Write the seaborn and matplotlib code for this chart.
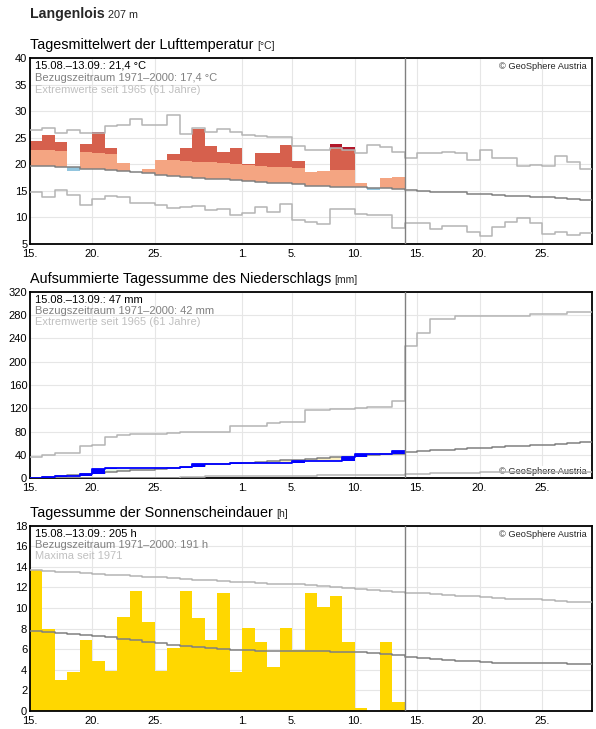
import numpy as np
import matplotlib
matplotlib.use('Agg')
import matplotlib.pyplot as plt
import seaborn as sns

# day index 0 = 15.08.; observations run 15.08.-13.09. (30 days), axis runs to 29.09.
N_DAYS = 45
days_obs = np.arange(30)

tick_pos = [0, 5, 10, 17, 21, 26, 31, 36, 41]
tick_labels = ['15.', '20.', '25.', '1.', '5.', '10.', '15.', '20.', '25.']

# --- air temperature (daily mean, °C) ---
temp_obs = [24.4, 25.6, 24.1, 18.8, 23.9, 26.1, 23.1, 20.3, 18.5, 19.1,
            20.8, 21.9, 23.1, 26.7, 23.5, 22.3, 23.1, 20.1, 22.2, 22.2,
            23.7, 20.6, 18.6, 18.8, 23.9, 23.3, 16.5, 15.2, 17.5, 17.6]
temp_mean = [19.6, 19.6, 19.4, 19.4, 19.2, 19.1, 18.9, 18.7, 18.5, 18.4,
             18.0, 17.8, 17.6, 17.4, 17.3, 17.2, 17.0, 16.9, 16.7, 16.5,
             16.4, 16.2, 16.0, 16.0, 15.8, 15.8, 15.7, 15.5, 15.5, 15.3,
             15.1, 15.0, 14.8, 14.7, 14.7, 14.5, 14.5, 14.3, 14.1, 14.1,
             13.9, 13.8, 13.6, 13.4, 13.2]
temp_max = [26.4, 26.8, 25.9, 26.4, 25.9, 25.9, 27.2, 27.4, 28.5, 27.4,
            27.4, 29.3, 25.7, 26.8, 26.1, 26.6, 26.1, 25.5, 25.4, 25.1,
            25.1, 23.4, 22.7, 22.7, 23.0, 22.7, 22.1, 23.6, 23.2, 22.3,
            21.1, 22.1, 22.1, 22.3, 22.1, 20.8, 22.7, 21.1, 21.1, 19.6,
            19.8, 19.6, 21.5, 20.4, 19.1]
temp_min = [14.8, 13.8, 15.1, 14.3, 12.4, 13.4, 14.1, 13.9, 12.7, 12.8,
            12.4, 11.7, 11.9, 12.1, 11.4, 11.6, 10.4, 10.9, 11.9, 11.1,
            12.6, 9.5, 9.2, 8.8, 11.6, 11.6, 10.7, 10.4, 10.4, 8.1,
            8.9, 8.9, 7.8, 8.4, 8.4, 7.2, 6.5, 8.2, 9.1, 9.8,
            8.9, 6.9, 7.2, 6.7, 7.0]
TEMP_STRONG = 3.05  # anomaly above which the bar turns dark

# --- precipitation (mm) ---
rain_daily = [0, 2.5, 1.0, 0.5, 4.0, 8.0, 1.2, 0, 0, 0,
              0, 0.6, 1.4, 5.2, 0, 0, 1.6, 0, 0, 0,
              0, 3.5, 0, 0, 0, 7.3, 4.2, 0, 0, 6.0]
rain_mean = [1.1, 2.8, 4.3, 6.0, 7.8, 9.5, 11.2, 12.3, 13.5, 14.6,
             15.8, 17.0, 18.8, 21.5, 23.8, 24.5, 25.5, 27.0, 28.8, 30.0,
             31.3, 32.0, 33.5, 34.5, 35.8, 37.0, 38.6, 40.0, 41.2, 42.3,
             44.9, 46.6, 47.8, 48.9, 50.1, 51.3, 52.4, 53.6, 54.7, 55.9,
             57.0, 57.6, 59.3, 61.1, 62.8]
rain_max = [36.3, 39.8, 43.2, 43.2, 55.9, 57.1, 70.9, 74.4, 75.5, 76.7,
            76.7, 77.8, 79.0, 80.1, 80.1, 80.1, 90.5, 90.5, 90.5, 95.1,
            96.3, 96.3, 117.6, 117.6, 118.7, 118.7, 120.5, 121.6, 121.6, 133.1,
            226.4, 249.5, 273.1, 273.1, 278.9, 278.9, 278.9, 278.9, 278.9, 278.9,
            281.8, 281.8, 281.8, 285.2, 285.2]
rain_min = [0, 0, 0, 0, 0, 0, 0, 0, 0, 0,
            0, 0, 1.7, 2.9, 4.2, 4.2, 4.2, 4.2, 4.2, 4.2,
            4.2, 4.2, 4.2, 6.2, 6.2, 6.2, 6.2, 6.2, 6.2, 6.2,
            6.9, 6.9, 8.6, 8.6, 8.6, 8.6, 10.3, 10.3, 10.3, 10.3,
            10.3, 10.3, 10.3, 10.3, 10.3]

# --- sunshine duration (h) ---
sun_obs = [13.7, 8.0, 3.0, 3.8, 6.9, 4.9, 3.9, 9.1, 11.7, 8.6,
           3.9, 6.1, 11.7, 9.0, 6.9, 11.5, 3.8, 8.1, 6.7, 4.3,
           8.1, 5.9, 11.5, 10.1, 11.2, 6.7, 0.3, 0.0, 6.7, 0.9]
sun_mean = [7.75, 7.65, 7.55, 7.45, 7.36, 7.26, 7.16, 6.97, 6.87, 6.67,
            6.58, 6.38, 6.28, 6.18, 6.09, 5.99, 5.89, 5.89, 5.79, 5.79,
            5.79, 5.79, 5.79, 5.79, 5.70, 5.70, 5.70, 5.60, 5.50, 5.47,
            5.24, 5.14, 5.08, 4.98, 4.88, 4.82, 4.72, 4.65, 4.65, 4.65,
            4.65, 4.65, 4.65, 4.56, 4.56]
sun_max = [13.67, 13.57, 13.48, 13.48, 13.38, 13.28, 13.18, 13.18, 13.09, 12.99,
           12.99, 12.89, 12.79, 12.70, 12.70, 12.60, 12.50, 12.50, 12.40, 12.30,
           12.30, 12.30, 12.21, 12.11, 12.01, 11.91, 11.82, 11.72, 11.62, 11.52,
           11.49, 11.43, 11.33, 11.26, 11.17, 11.17, 11.07, 11.00, 10.90, 10.84,
           10.84, 10.74, 10.68, 10.61, 10.61]

MEAN_C = '#808080'
EXT_C = '#b4b4b4'

W, H = 596, 729
sns.set_theme(style='white')
plt.rcParams['font.family'] = ['Liberation Sans', 'DejaVu Sans']

fig = plt.figure(figsize=(W / 100, H / 100), dpi=100)


def fx(px):
    return px / W


def fy(py):
    return 1 - py / H


def make_ax(top_px, bottom_px):
    return fig.add_axes([fx(30), fy(bottom_px), fx(592) - fx(30), (bottom_px - top_px) / H])


def step_line(ax, values, color, lw, zorder=3):
    vals = list(values) + [values[-1]]
    sns.lineplot(x=np.arange(len(vals)), y=vals, drawstyle='steps-post', color=color,
                 lw=lw, ax=ax, estimator=None, zorder=zorder)


def style_ax(ax, ylim, yticks):
    ax.set_xlim(0, N_DAYS)
    ax.set_ylim(*ylim)
    ax.set_xticks(tick_pos)
    ax.set_xticklabels(tick_labels)
    ax.set_yticks(yticks)
    ax.grid(True, color='#e6e6e6', lw=0.8)
    ax.set_axisbelow(True)
    ax.tick_params(length=0, labelsize=8, colors='black')
    ax.tick_params(axis='x', pad=3.5)
    ax.tick_params(axis='y', pad=2)
    for s in ax.spines.values():
        s.set_visible(True)
        s.set_color('black')
        s.set_linewidth(1.3)
    ax.axvline(30, color=MEAN_C, lw=1, zorder=4)
    ax.set_xlabel('')
    ax.set_ylabel('')


def panel_title(ax, top_px, text, unit):
    t = fig.text(fx(30), fy(top_px - 9), text, fontsize=10.4, va='baseline', color='black')
    ax.annotate(unit, xy=(1, 0), xycoords=t, xytext=(2.5, 0.6), textcoords='offset points',
                fontsize=7.5, va='bottom', ha='left', annotation_clip=False)


def info_text(top_px, lines, spacing):
    colors = ['black', '#808080', '#c0c0c0']
    for i, (line, c) in enumerate(zip(lines, colors)):
        fig.text(fx(35), fy(top_px + 11 + i * spacing), line, fontsize=8, color=c, va='baseline')


# header
hdr = fig.text(fx(30), fy(18.3), 'Langenlois', fontsize=10.2, fontweight='bold', va='baseline')

# ---------- temperature ----------
ax1 = make_ax(58, 244)
ax1.annotate('207 m', xy=(1, 0), xycoords=hdr, xytext=(2.5, 0.6), textcoords='offset points',
             fontsize=7.8, va='bottom', annotation_clip=False)

t_obs = np.array(temp_obs)
t_mean = np.array(temp_mean[:30])
t_max = np.array(temp_max[:30])
thr = t_mean + TEMP_STRONG

warm = t_obs > t_mean
top_light = np.minimum(t_obs, thr)
ax1.bar(days_obs[warm], (top_light - t_mean)[warm], bottom=t_mean[warm], width=1, align='edge',
        color='#f4a582', lw=0, zorder=2)
hot = t_obs > thr
top_red = np.minimum(t_obs, np.maximum(t_max, thr))
ax1.bar(days_obs[hot], (top_red - thr)[hot], bottom=thr[hot], width=1, align='edge',
        color='#d6604d', lw=0, zorder=2)
rec = hot & (t_obs > t_max)
ax1.bar(days_obs[rec], (t_obs - t_max)[rec], bottom=t_max[rec], width=1, align='edge',
        color='#b2182b', lw=0, zorder=2)
cold = t_obs < t_mean
ax1.bar(days_obs[cold], (t_mean - t_obs)[cold], bottom=t_obs[cold], width=1, align='edge',
        color='#92c5de', lw=0, zorder=2)

step_line(ax1, temp_max, EXT_C, 1.1)
step_line(ax1, temp_min, EXT_C, 1.1)
step_line(ax1, temp_mean, MEAN_C, 1.1)
style_ax(ax1, (5, 40), np.arange(5, 41, 5))
panel_title(ax1, 58, 'Tagesmittelwert der Lufttemperatur', '[°C]')
info_text(58, ['15.08.–13.09.: 21,4 °C', 'Bezugszeitraum 1971–2000: 17,4 °C',
               'Extremwerte seit 1965 (61 Jahre)'], 12.2)
fig.text(fx(587), fy(69), '© GeoSphere Austria', fontsize=6.7, ha='right', va='baseline')

# ---------- precipitation ----------
ax2 = make_ax(291.7, 478.3)
cum = np.cumsum(rain_daily)
prev = cum - np.array(rain_daily)
r_mean = np.array(rain_mean[:30])
diff_col = np.where(cum >= r_mean, '#e3f4e0', '#fbf0c0')
ax2.bar(days_obs, cum - r_mean, bottom=r_mean, width=1, align='edge', color=diff_col, lw=0, zorder=2)
step_line(ax2, rain_max, EXT_C, 1.1)
step_line(ax2, rain_min, EXT_C, 1.1)
step_line(ax2, rain_mean, MEAN_C, 1.1)
step_line(ax2, cum, '#0000ff', 1.3, zorder=3.5)
ax2.bar(days_obs, rain_daily, bottom=prev, width=1, align='edge', color='#0000ff', lw=0, zorder=3.6)
style_ax(ax2, (0, 320), np.arange(0, 321, 40))
panel_title(ax2, 291.7, 'Aufsummierte Tagessumme des Niederschlags', '[mm]')
info_text(291.7, ['15.08.–13.09.: 47 mm', 'Bezugszeitraum 1971–2000: 42 mm',
                  'Extremwerte seit 1965 (61 Jahre)'], 11)
ax2.text(0.991, 0.012, '© GeoSphere Austria', transform=ax2.transAxes, fontsize=6.7, ha='right',
         va='bottom', zorder=2.4, bbox=dict(facecolor='white', edgecolor='none', pad=1.0))

# ---------- sunshine ----------
ax3 = make_ax(525.7, 711)
ax3.bar(days_obs, sun_obs, width=1, align='edge', color='#ffd700', lw=0, zorder=2)
step_line(ax3, sun_max, EXT_C, 1.1)
step_line(ax3, sun_mean, MEAN_C, 1.1)
style_ax(ax3, (0, 18), np.arange(0, 19, 2))
panel_title(ax3, 525.7, 'Tagessumme der Sonnenscheindauer', '[h]')
info_text(525.7, ['15.08.–13.09.: 205 h', 'Bezugszeitraum 1971–2000: 191 h', 'Maxima seit 1971'], 11.2)
fig.text(fx(587), fy(536.7), '© GeoSphere Austria', fontsize=6.7, ha='right', va='baseline')

fig.savefig('out.png', dpi=100)
